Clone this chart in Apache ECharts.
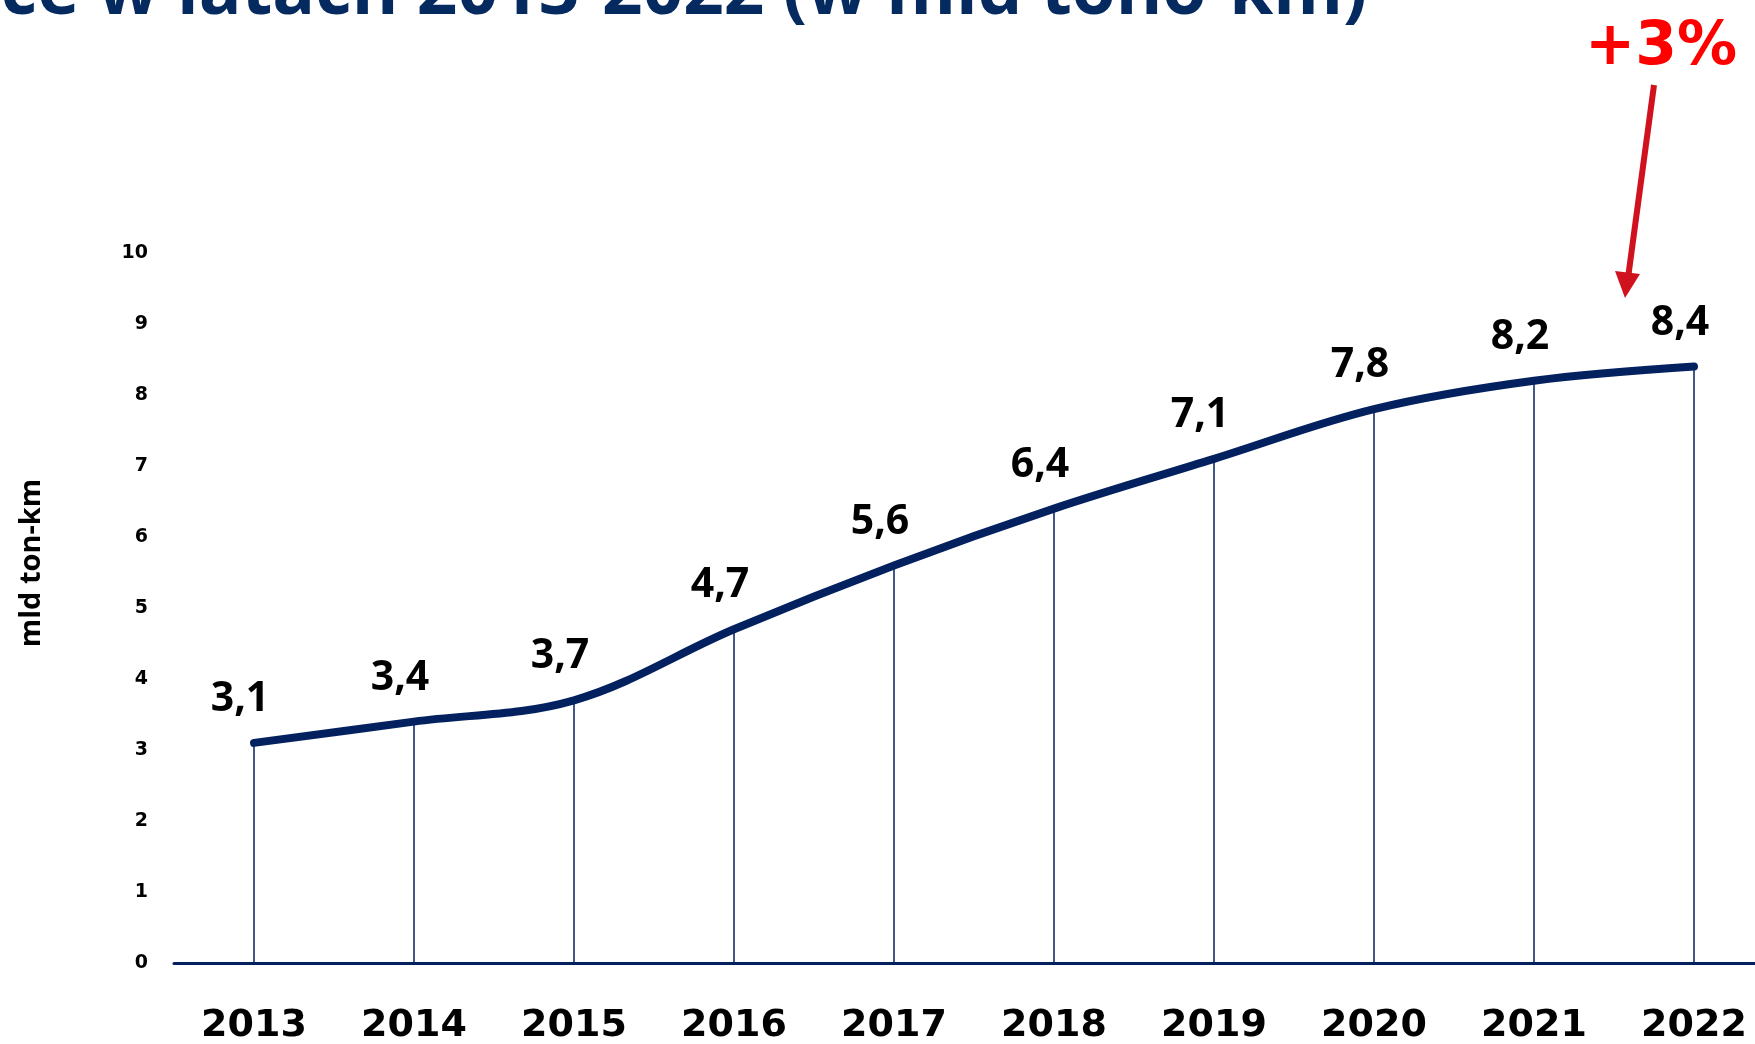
<!DOCTYPE html>
<html>
<head>
<meta charset="utf-8">
<script src="https://cdn.jsdelivr.net/npm/echarts@6/dist/echarts.min.js"></script>
<style>
  html, body {margin: 0; padding: 0; background: #ffffff;}
  #chart {width: 1755px; height: 1044px;}
</style>
</head>
<body>
<div id="chart"></div>
<script>

// lata i praca przewozowa (mld tono-km)
var years = ['2013', '2014', '2015', '2016', '2017', '2018', '2019', '2020', '2021', '2022'];
var values = [3.1, 3.4, 3.7, 4.7, 5.6, 6.4, 7.1, 7.8, 8.2, 8.4];
var yTicks = [0, 10, 1];   // min, max, interval
var titleText = 'Przewozy intermodalne w Polsce w latach 2013-2022 (w mld tono-km)';
var growthText = '+3%';

var navy = '#03215f';

// based on prepared DOM, initialize echarts instance
var myChart = echarts.init(document.getElementById('chart'));

var option = {
    backgroundColor: '#ffffff',
    animation: false,
    grid: {
        left: 174,
        top: 253,
        width: 1600,
        bottom: 81,
        outerBoundsMode: 'none'
    },
    xAxis: {
        type: 'category',
        data: years,
        boundaryGap: true,
        axisLine: {show: true, lineStyle: {color: navy, width: 3}},
        axisTick: {show: false},
        axisLabel: {
            margin: 44,
            color: '#000000',
            fontFamily: 'DejaVu Sans',
            fontWeight: 'bold',
            fontSize: 38
        }
    },
    yAxis: {
        type: 'value',
        min: yTicks[0],
        max: yTicks[1],
        interval: yTicks[2],
        name: 'mld ton-km',
        nameLocation: 'middle',
        nameGap: 128,
        nameTextStyle: {
            color: '#000000',
            fontFamily: 'Open Sans',
            fontWeight: 'bold',
            fontSize: 29,
            padding: [0, 0, 0, 90]
        },
        axisLine: {show: false},
        axisTick: {show: false},
        splitLine: {show: false},
        axisLabel: {
            margin: 26,
            color: '#000000',
            fontFamily: 'DejaVu Sans',
            fontWeight: 'bold',
            fontSize: 19
        }
    },
    series: [{
        // cienkie linie pionowe od punktu do osi
        type: 'bar',
        data: values,
        barWidth: 1.5,
        itemStyle: {color: navy},
        silent: true,
        z: 1
    }, {
        type: 'line',
        data: values,
        smooth: 0.35,
        symbol: 'circle',
        symbolSize: 2,
        itemStyle: {color: navy},
        lineStyle: {color: navy, width: 8, cap: 'round'},
        label: {
            show: true,
            position: 'top',
            distance: 22,
            offset: [-14, 0],
            color: '#000000',
            fontFamily: 'Open Sans',
            fontWeight: 'bold',
            fontSize: 41,
            formatter: function (p) {
                return String(p.value).replace('.', ',');
            }
        },
        z: 3
    }],
    graphic: [{
        type: 'text',
        right: 1755 - 1367,
        top: -42,
        style: {
            text: titleText,
            fill: '#052a5f',
            font: 'bold 71px "Open Sans"'
        }
    }, {
        type: 'text',
        left: 1585,
        top: 18,
        style: {
            text: growthText,
            fill: '#ff0000',
            font: 'bold 60px "DejaVu Sans"'
        }
    }, {
        // strzalka
        type: 'line',
        shape: {x1: 1654, y1: 85, x2: 1628, y2: 278},
        style: {stroke: '#d0121e', lineWidth: 6}
    }, {
        type: 'polygon',
        shape: {points: [[1625, 298], [1640, 274], [1615, 271]]},
        style: {fill: '#d0121e'}
    }]
};

// use configuration item and data specified to show chart
myChart.setOption(option);
</script>
</body>
</html>
